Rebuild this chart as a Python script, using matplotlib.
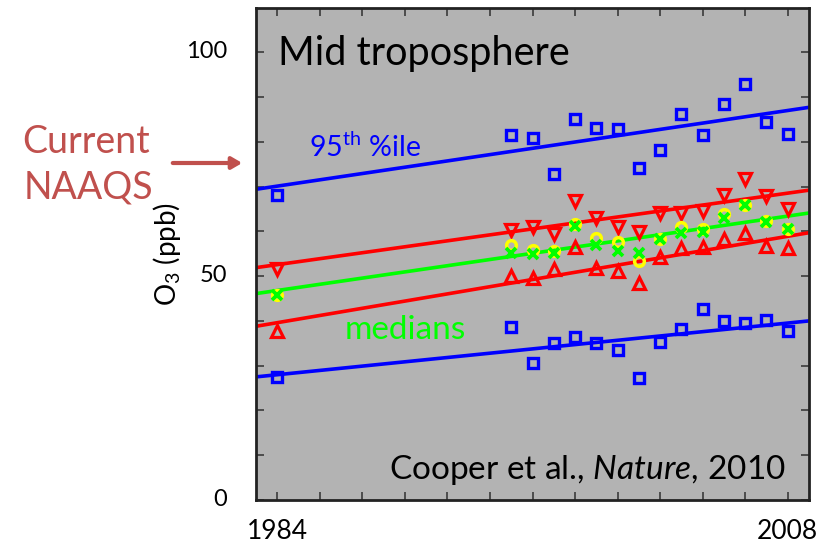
import numpy as np
import matplotlib
matplotlib.use("Agg")
from matplotlib import pyplot as plt
from matplotlib.transforms import ScaledTranslation

# ozone data, ppb
years = [1984, 1995, 1996, 1997, 1998, 1999, 2000, 2001, 2002, 2003, 2004, 2005, 2006, 2007, 2008]
p95 = [68.2, 81.5, 80.8, 72.8, 85.2, 83.0, 82.9, 74.2, 78.1, 86.3, 81.6, 88.4, 93.0, 84.4, 81.8]
p05 = [27.5, 38.7, 30.5, 35.1, 36.5, 35.0, 33.5, 27.2, 35.2, 38.3, 42.6, 40.0, 39.6, 40.2, 37.8]
upper = [51.5, 60.4, 60.9, 59.5, 66.8, 63.0, 60.9, 59.9, 64.0, 64.1, 64.6, 68.2, 71.8, 67.9, 65.1]
lower = [37.8, 50.0, 49.5, 51.5, 56.5, 51.9, 51.2, 48.4, 54.2, 56.2, 56.4, 58.2, 59.7, 56.7, 56.2]
means = [45.8, 56.9, 55.8, 55.6, 61.6, 58.6, 57.7, 53.3, 58.2, 61.0, 60.6, 63.8, 66.0, 62.3, 60.6]
medians = [45.8, 55.1, 54.9, 55.2, 61.2, 56.9, 55.6, 55.2, 58.2, 59.7, 59.9, 62.9, 65.8, 62.1, 60.6]

# trend lines, value at start and end of the x range
trend_x = [1983, 2009]
trend_p95 = [69.4, 87.7]
trend_upper = [51.9, 69.2]
trend_median = [46.1, 64.1]
trend_lower = [38.8, 59.7]
trend_p05 = [27.5, 40.0]

FONT = "Lato"
plt.rcParams["font.family"] = FONT
plt.rcParams["mathtext.fontset"] = "custom"
plt.rcParams["mathtext.rm"] = FONT
plt.rcParams["mathtext.it"] = FONT + ":italic"

fig = plt.figure(figsize=(8.39, 5.46), dpi=100)
ax = fig.add_axes([256 / 839, 1 - 500 / 546, 553 / 839, 492.5 / 546])
ax.set_facecolor("#b3b3b3")

blue, red, green, yellow = "#0000ff", "#ff0000", "#00ff00", "#ffff00"

ax.plot(trend_x, trend_p95, color=blue, lw=2.6, zorder=2)
ax.plot(trend_x, trend_p05, color=blue, lw=2.6, zorder=2)
ax.plot(trend_x, trend_upper, color=red, lw=2.6, zorder=2)
ax.plot(trend_x, trend_lower, color=red, lw=2.6, zorder=2)
ax.plot(trend_x, trend_median, color=green, lw=2.6, zorder=2)

sq = dict(ls="none", marker="s", ms=6.5, mfc="none", mec=blue, mew=2.4, zorder=3)
ax.plot(years, p95, **sq)
ax.plot(years, p05, **sq)
ax.plot(years, upper, ls="none", marker="v", ms=9, mfc="none", mec=red, mew=2.3, zorder=3)
ax.plot(years, lower, ls="none", marker="^", ms=9, mfc="none", mec=red, mew=2.3, zorder=3)
ax.plot(years, means, ls="none", marker="o", ms=7, mfc="none", mec=yellow, mew=2.5, zorder=3)
ax.plot(years, medians, ls="none", marker="x", ms=6.5, mec=green, mew=2.7, zorder=4)

ax.set_xlim(1983, 2009)
ax.set_ylim(0, 110)
ax.set_xticks(np.arange(1984, 2009, 2))
ax.set_xticklabels(["1984"] + [""] * 11 + ["2008"])
ax.set_yticks(np.arange(0, 101, 10))
ax.set_yticklabels(["0", "", "", "", "", "50", "", "", "", "", "100"])
ax.tick_params(direction="in", top=True, right=True, length=6, width=1.3, color="#444444")
ax.tick_params(axis="x", labelsize=19, pad=14)
ax.tick_params(axis="y", labelsize=17, pad=21)
# y labels sit a few pixels above their ticks in the original
for lab in ax.get_yticklabels():
    lab.set_transform(lab.get_transform() + ScaledTranslation(0, 3 / 100, fig.dpi_scale_trans))
for s in ax.spines.values():
    s.set_linewidth(2)
    s.set_color("#222222")

ax.set_ylabel("O$_3$ (ppb)", fontsize=20, labelpad=2)

ax.text(1984.05, 97.1, "Mid troposphere", fontsize=28.5, va="baseline", ha="left")
ax.text(1985.5, 76.6, r"95$^{\mathrm{th}}$ %ile", fontsize=20.5, color=blue, va="baseline", ha="left")
ax.text(1987.15, 38.0, "medians", fontsize=24, color=green, va="center", ha="left")
ax.text(2007.9, 4.6, r"Cooper et al., $\mathit{Nature,}\,$2010", fontsize=24, va="baseline", ha="right")

naaqs_col = "#c0504d"
fig.text(86 / 839, 1 - 142 / 546, "Current", fontsize=27, color=naaqs_col, ha="center", va="center")
fig.text(88 / 839, 1 - 187 / 546, "NAAQS", fontsize=27, color=naaqs_col, ha="center", va="center")
ax.annotate("", xy=(245 / 839, 1 - 163 / 546), xycoords="figure fraction",
            xytext=(170 / 839, 1 - 163 / 546), textcoords="figure fraction",
            arrowprops=dict(arrowstyle="-|>,head_length=0.6,head_width=0.35", color=naaqs_col, lw=3),
            annotation_clip=False)

plt.savefig("out.png", dpi=100)
